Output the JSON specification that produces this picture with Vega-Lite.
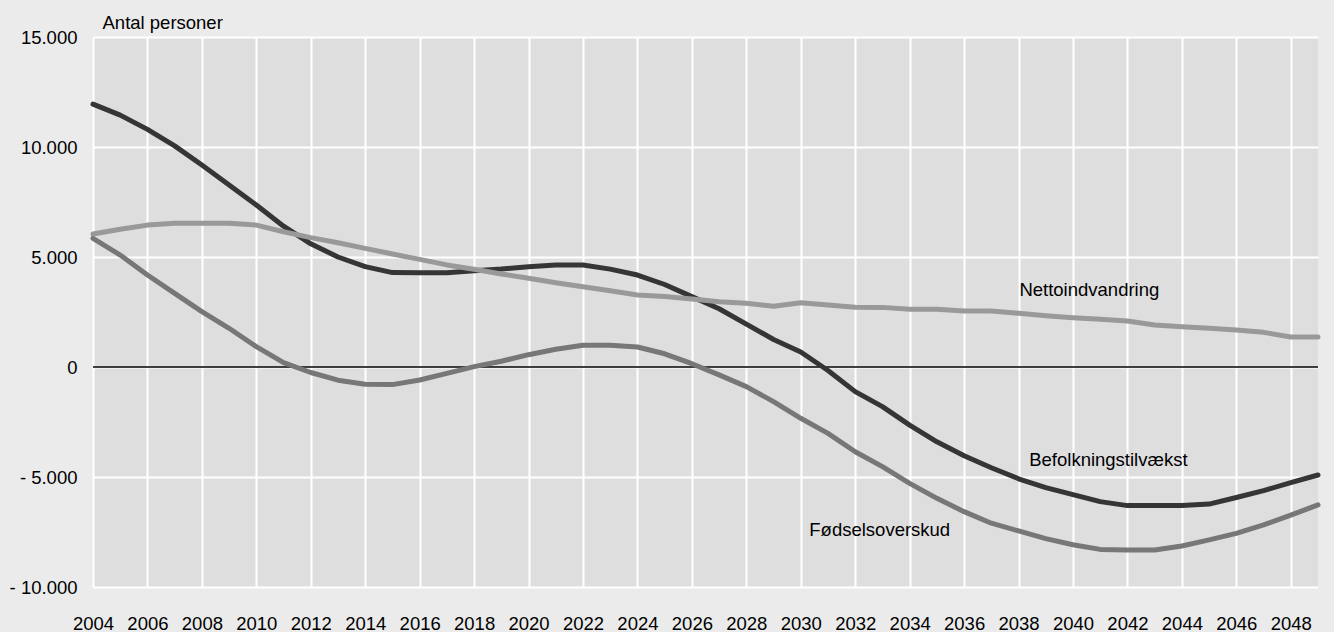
{
  "$schema": "https://vega.github.io/schema/vega-lite/v6.json",
  "width": 1225,
  "height": 550,
  "autosize": {"type": "none"},
  "padding": {"left": 93, "top": 37, "right": 16, "bottom": 45},
  "background": "#ebebeb",
  "config": {
    "view": {"fill": "#dedede", "stroke": null},
    "font": "Liberation Sans, Arial, sans-serif"
  },
  "datasets": {
    "series": [
      {"year": 2004, "series": "Befolkningstilvækst", "value": 11950},
      {"year": 2005, "series": "Befolkningstilvækst", "value": 11450},
      {"year": 2006, "series": "Befolkningstilvækst", "value": 10800},
      {"year": 2007, "series": "Befolkningstilvækst", "value": 10050},
      {"year": 2008, "series": "Befolkningstilvækst", "value": 9180},
      {"year": 2009, "series": "Befolkningstilvækst", "value": 8270},
      {"year": 2010, "series": "Befolkningstilvækst", "value": 7360},
      {"year": 2011, "series": "Befolkningstilvækst", "value": 6400},
      {"year": 2012, "series": "Befolkningstilvækst", "value": 5600},
      {"year": 2013, "series": "Befolkningstilvækst", "value": 5000},
      {"year": 2014, "series": "Befolkningstilvækst", "value": 4560},
      {"year": 2015, "series": "Befolkningstilvækst", "value": 4290},
      {"year": 2016, "series": "Befolkningstilvækst", "value": 4280},
      {"year": 2017, "series": "Befolkningstilvækst", "value": 4280},
      {"year": 2018, "series": "Befolkningstilvækst", "value": 4380},
      {"year": 2019, "series": "Befolkningstilvækst", "value": 4450},
      {"year": 2020, "series": "Befolkningstilvækst", "value": 4560},
      {"year": 2021, "series": "Befolkningstilvækst", "value": 4640},
      {"year": 2022, "series": "Befolkningstilvækst", "value": 4640},
      {"year": 2023, "series": "Befolkningstilvækst", "value": 4450},
      {"year": 2024, "series": "Befolkningstilvækst", "value": 4180},
      {"year": 2025, "series": "Befolkningstilvækst", "value": 3750},
      {"year": 2026, "series": "Befolkningstilvækst", "value": 3200},
      {"year": 2027, "series": "Befolkningstilvækst", "value": 2650},
      {"year": 2028, "series": "Befolkningstilvækst", "value": 1950},
      {"year": 2029, "series": "Befolkningstilvækst", "value": 1250},
      {"year": 2030, "series": "Befolkningstilvækst", "value": 680},
      {"year": 2031, "series": "Befolkningstilvækst", "value": -160},
      {"year": 2032, "series": "Befolkningstilvækst", "value": -1120},
      {"year": 2033, "series": "Befolkningstilvækst", "value": -1800},
      {"year": 2034, "series": "Befolkningstilvækst", "value": -2640},
      {"year": 2035, "series": "Befolkningstilvækst", "value": -3400},
      {"year": 2036, "series": "Befolkningstilvækst", "value": -4030},
      {"year": 2037, "series": "Befolkningstilvækst", "value": -4580},
      {"year": 2038, "series": "Befolkningstilvækst", "value": -5080},
      {"year": 2039, "series": "Befolkningstilvækst", "value": -5480},
      {"year": 2040, "series": "Befolkningstilvækst", "value": -5800},
      {"year": 2041, "series": "Befolkningstilvækst", "value": -6120},
      {"year": 2042, "series": "Befolkningstilvækst", "value": -6300},
      {"year": 2043, "series": "Befolkningstilvækst", "value": -6300},
      {"year": 2044, "series": "Befolkningstilvækst", "value": -6300},
      {"year": 2045, "series": "Befolkningstilvækst", "value": -6230},
      {"year": 2046, "series": "Befolkningstilvækst", "value": -5930},
      {"year": 2047, "series": "Befolkningstilvækst", "value": -5620},
      {"year": 2048, "series": "Befolkningstilvækst", "value": -5260},
      {"year": 2049, "series": "Befolkningstilvækst", "value": -4910},
      {"year": 2004, "series": "Nettoindvandring", "value": 6045},
      {"year": 2005, "series": "Nettoindvandring", "value": 6260},
      {"year": 2006, "series": "Nettoindvandring", "value": 6450},
      {"year": 2007, "series": "Nettoindvandring", "value": 6530},
      {"year": 2008, "series": "Nettoindvandring", "value": 6530},
      {"year": 2009, "series": "Nettoindvandring", "value": 6530},
      {"year": 2010, "series": "Nettoindvandring", "value": 6450},
      {"year": 2011, "series": "Nettoindvandring", "value": 6150},
      {"year": 2012, "series": "Nettoindvandring", "value": 5880},
      {"year": 2013, "series": "Nettoindvandring", "value": 5650},
      {"year": 2014, "series": "Nettoindvandring", "value": 5390},
      {"year": 2015, "series": "Nettoindvandring", "value": 5135},
      {"year": 2016, "series": "Nettoindvandring", "value": 4890},
      {"year": 2017, "series": "Nettoindvandring", "value": 4640},
      {"year": 2018, "series": "Nettoindvandring", "value": 4440},
      {"year": 2019, "series": "Nettoindvandring", "value": 4230},
      {"year": 2020, "series": "Nettoindvandring", "value": 4030},
      {"year": 2021, "series": "Nettoindvandring", "value": 3830},
      {"year": 2022, "series": "Nettoindvandring", "value": 3650},
      {"year": 2023, "series": "Nettoindvandring", "value": 3470},
      {"year": 2024, "series": "Nettoindvandring", "value": 3270},
      {"year": 2025, "series": "Nettoindvandring", "value": 3200},
      {"year": 2026, "series": "Nettoindvandring", "value": 3090},
      {"year": 2027, "series": "Nettoindvandring", "value": 2970},
      {"year": 2028, "series": "Nettoindvandring", "value": 2895},
      {"year": 2029, "series": "Nettoindvandring", "value": 2760},
      {"year": 2030, "series": "Nettoindvandring", "value": 2920},
      {"year": 2031, "series": "Nettoindvandring", "value": 2820},
      {"year": 2032, "series": "Nettoindvandring", "value": 2720},
      {"year": 2033, "series": "Nettoindvandring", "value": 2710},
      {"year": 2034, "series": "Nettoindvandring", "value": 2620},
      {"year": 2035, "series": "Nettoindvandring", "value": 2620},
      {"year": 2036, "series": "Nettoindvandring", "value": 2545},
      {"year": 2037, "series": "Nettoindvandring", "value": 2545},
      {"year": 2038, "series": "Nettoindvandring", "value": 2440},
      {"year": 2039, "series": "Nettoindvandring", "value": 2330},
      {"year": 2040, "series": "Nettoindvandring", "value": 2240},
      {"year": 2041, "series": "Nettoindvandring", "value": 2165},
      {"year": 2042, "series": "Nettoindvandring", "value": 2090},
      {"year": 2043, "series": "Nettoindvandring", "value": 1910},
      {"year": 2044, "series": "Nettoindvandring", "value": 1830},
      {"year": 2045, "series": "Nettoindvandring", "value": 1760},
      {"year": 2046, "series": "Nettoindvandring", "value": 1680},
      {"year": 2047, "series": "Nettoindvandring", "value": 1575},
      {"year": 2048, "series": "Nettoindvandring", "value": 1360},
      {"year": 2049, "series": "Nettoindvandring", "value": 1360},
      {"year": 2004, "series": "Fødselsoverskud", "value": 5850},
      {"year": 2005, "series": "Fødselsoverskud", "value": 5090},
      {"year": 2006, "series": "Fødselsoverskud", "value": 4180},
      {"year": 2007, "series": "Fødselsoverskud", "value": 3350},
      {"year": 2008, "series": "Fødselsoverskud", "value": 2515},
      {"year": 2009, "series": "Fødselsoverskud", "value": 1760},
      {"year": 2010, "series": "Fødselsoverskud", "value": 925},
      {"year": 2011, "series": "Fødselsoverskud", "value": 200},
      {"year": 2012, "series": "Fødselsoverskud", "value": -250},
      {"year": 2013, "series": "Fødselsoverskud", "value": -600},
      {"year": 2014, "series": "Fødselsoverskud", "value": -780},
      {"year": 2015, "series": "Fødselsoverskud", "value": -800},
      {"year": 2016, "series": "Fødselsoverskud", "value": -590},
      {"year": 2017, "series": "Fødselsoverskud", "value": -290},
      {"year": 2018, "series": "Fødselsoverskud", "value": 15},
      {"year": 2019, "series": "Fødselsoverskud", "value": 260},
      {"year": 2020, "series": "Fødselsoverskud", "value": 560},
      {"year": 2021, "series": "Fødselsoverskud", "value": 810},
      {"year": 2022, "series": "Fødselsoverskud", "value": 990},
      {"year": 2023, "series": "Fødselsoverskud", "value": 990},
      {"year": 2024, "series": "Fødselsoverskud", "value": 910},
      {"year": 2025, "series": "Fødselsoverskud", "value": 600},
      {"year": 2026, "series": "Fødselsoverskud", "value": 150},
      {"year": 2027, "series": "Fødselsoverskud", "value": -360},
      {"year": 2028, "series": "Fødselsoverskud", "value": -890},
      {"year": 2029, "series": "Fødselsoverskud", "value": -1575},
      {"year": 2030, "series": "Fødselsoverskud", "value": -2330},
      {"year": 2031, "series": "Fødselsoverskud", "value": -3015},
      {"year": 2032, "series": "Fødselsoverskud", "value": -3850},
      {"year": 2033, "series": "Fødselsoverskud", "value": -4530},
      {"year": 2034, "series": "Fødselsoverskud", "value": -5290},
      {"year": 2035, "series": "Fødselsoverskud", "value": -5970},
      {"year": 2036, "series": "Fødselsoverskud", "value": -6575},
      {"year": 2037, "series": "Fødselsoverskud", "value": -7100},
      {"year": 2038, "series": "Fødselsoverskud", "value": -7450},
      {"year": 2039, "series": "Fødselsoverskud", "value": -7800},
      {"year": 2040, "series": "Fødselsoverskud", "value": -8080},
      {"year": 2041, "series": "Fødselsoverskud", "value": -8290},
      {"year": 2042, "series": "Fødselsoverskud", "value": -8320},
      {"year": 2043, "series": "Fødselsoverskud", "value": -8320},
      {"year": 2044, "series": "Fødselsoverskud", "value": -8135},
      {"year": 2045, "series": "Fødselsoverskud", "value": -7860},
      {"year": 2046, "series": "Fødselsoverskud", "value": -7560},
      {"year": 2047, "series": "Fødselsoverskud", "value": -7180},
      {"year": 2048, "series": "Fødselsoverskud", "value": -6730},
      {"year": 2049, "series": "Fødselsoverskud", "value": -6270}
    ],
    "labels": [
      {"year": 2040.6, "value": 3500, "label": "Nettoindvandring"},
      {"year": 2041.3, "value": -4230, "label": "Befolkningstilvækst"},
      {"year": 2032.9, "value": -7410, "label": "Fødselsoverskud"}
    ]
  },
  "layer": [
    {
      "data": {"values": [{}]},
      "mark": {"type": "rule", "color": "#000000", "strokeWidth": 1.5},
      "encoding": {
        "y": {"datum": 0, "type": "quantitative", "scale": {"domain": [-10000, 15000], "nice": false, "zero": false}}
      }
    },
    {
      "data": {"name": "series"},
      "mark": {"type": "line", "strokeWidth": 5, "strokeCap": "round", "strokeJoin": "round"},
      "encoding": {
        "x": {
          "field": "year",
          "type": "quantitative",
          "scale": {"domain": [2004, 2049], "nice": false, "zero": false},
          "axis": {
            "title": null,
            "values": [2004,2005,2006,2007,2008,2009,2010,2011,2012,2013,2014,2015,2016,2017,2018,2019,2020,2021,2022,2023,2024,2025,2026,2027,2028,2029,2030,2031,2032,2033,2034,2035,2036,2037,2038,2039,2040,2041,2042,2043,2044,2045,2046,2047,2048,2049],
            "format": "d",
            "labelExpr": "datum.value % 2 == 0 ? datum.label : ''",
            "labelOverlap": false,
            "labelFlush": false,
            "labelFontSize": 18.5,
            "labelColor": "#000000",
            "labelBaseline": "alphabetic",
            "labelPadding": 42,
            "ticks": false,
            "domain": false,
            "grid": true,
            "gridColor": "#ffffff",
            "gridWidth": 2,
            "gridOpacity": 1
          }
        },
        "y": {
          "field": "value",
          "type": "quantitative",
          "scale": {"domain": [-10000, 15000], "nice": false, "zero": false},
          "axis": {
            "title": "Antal personer",
            "titleAngle": 0,
            "titleAlign": "left",
            "titleBaseline": "alphabetic",
            "titleX": 9,
            "titleY": -9,
            "titleFontSize": 18.5,
            "titleFontWeight": "normal",
            "titleColor": "#000000",
            "values": [-10000, -5000, 0, 5000, 10000, 15000],
            "labelExpr": "(datum.value < 0 ? '- ' : '') + replace(format(abs(datum.value), ','), ',', '.')",
            "labelFontSize": 18.5,
            "labelColor": "#000000",
            "labelPadding": 16,
            "labelFlush": false,
            "labelOverlap": false,
            "ticks": false,
            "domain": false,
            "grid": true,
            "gridColor": "#ffffff",
            "gridWidth": 2,
            "gridOpacity": 1
          }
        },
        "color": {
          "field": "series",
          "type": "nominal",
          "scale": {"domain": ["Befolkningstilvækst", "Nettoindvandring", "Fødselsoverskud"], "range": ["#353535", "#999999", "#777777"]},
          "legend": null
        }
      }
    },
    {
      "data": {"name": "labels"},
      "mark": {"type": "text", "fontSize": 18.5, "color": "#000000", "align": "center", "baseline": "middle"},
      "encoding": {
        "x": {"field": "year", "type": "quantitative"},
        "y": {"field": "value", "type": "quantitative"},
        "text": {"field": "label", "type": "nominal"}
      }
    }
  ]
}
